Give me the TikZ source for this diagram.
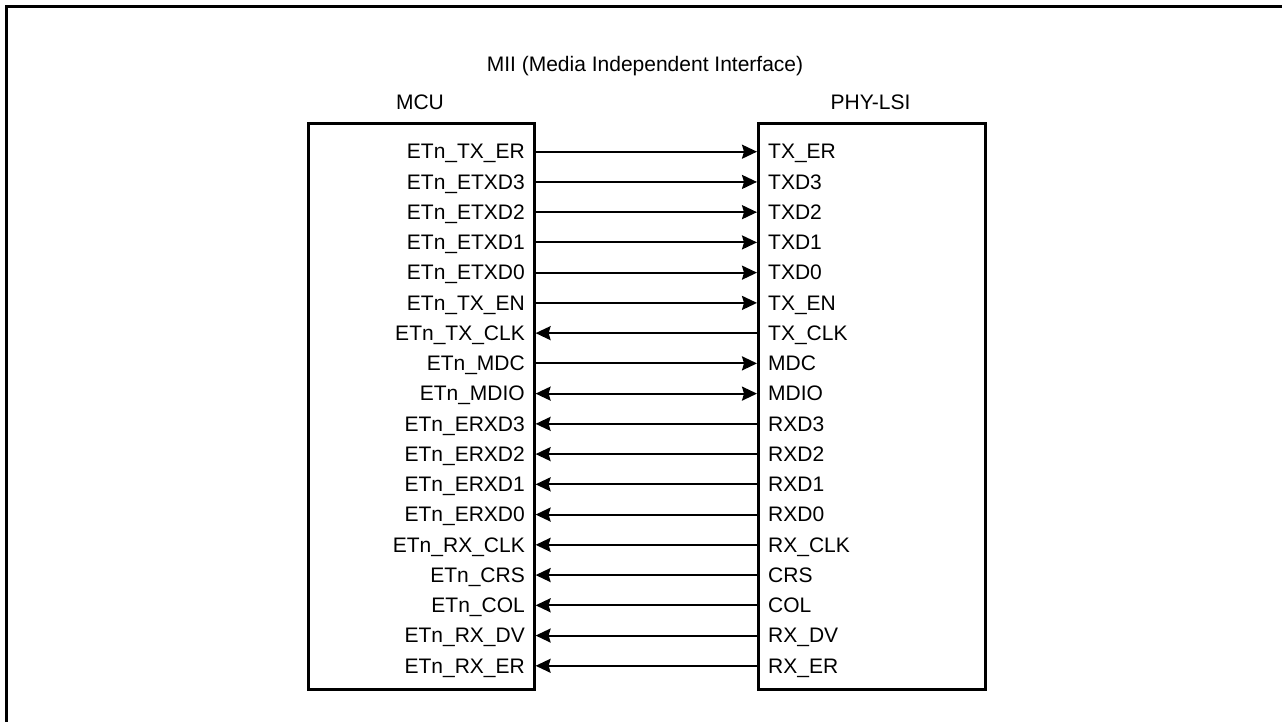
\documentclass[tikz,border=0pt]{standalone}
\usepackage{fontspec}
\setmainfont{Liberation Sans}
\usetikzlibrary{arrows.meta}
\begin{document}
\begin{tikzpicture}[x=1pt,y=-1pt,
  every node/.style={font=\fontsize{21}{25}\selectfont, inner sep=0pt},
  chipbox/.style={draw, line width=2.6pt},
  sig/.style={line width=2pt, {Stealth[length=15pt,width=14pt,inset=2pt]}-{Stealth[length=15pt,width=14pt,inset=2pt]}},
  sigr/.style={line width=2pt, -{Stealth[length=15pt,width=14pt,inset=2pt]}},
  sigl/.style={line width=2pt, {Stealth[length=15pt,width=14pt,inset=2pt]}-},
  mpin/.style={anchor=base east},
  ppin/.style={anchor=base west}]
\useasboundingbox (0,0) rectangle (1282,722);
\draw[line width=3pt] (6,722) -- (6,7) -- (1282,7);
\node (title) at (645,72) [anchor=base] {MII (Media Independent Interface)};
\node (mcu) [draw, chipbox, minimum width=226pt, minimum height=566pt, anchor=north west] at (307,122) {};
\node (phy) [draw, chipbox, minimum width=227pt, minimum height=566pt, anchor=north west] at (757,122) {};
\node (mcul) at (420,109.5) [anchor=base] {MCU};
\node (phyl) at (870.5,109.5) [anchor=base] {PHY-LSI};
\foreach \i/\ml/\pl/\st in {
  1/ETn\_TX\_ER/TX\_ER/sigr,
  2/ETn\_ETXD3/TXD3/sigr,
  3/ETn\_ETXD2/TXD2/sigr,
  4/ETn\_ETXD1/TXD1/sigr,
  5/ETn\_ETXD0/TXD0/sigr,
  6/ETn\_TX\_EN/TX\_EN/sigr,
  7/ETn\_TX\_CLK/TX\_CLK/sigl,
  8/ETn\_MDC/MDC/sigr,
  9/ETn\_MDIO/MDIO/sig,
  10/ETn\_ERXD3/RXD3/sigl,
  11/ETn\_ERXD2/RXD2/sigl,
  12/ETn\_ERXD1/RXD1/sigl,
  13/ETn\_ERXD0/RXD0/sigl,
  14/ETn\_RX\_CLK/RX\_CLK/sigl,
  15/ETn\_CRS/CRS/sigl,
  16/ETn\_COL/COL/sigl,
  17/ETn\_RX\_DV/RX\_DV/sigl,
  18/ETn\_RX\_ER/RX\_ER/sigl} {
  \pgfmathsetmacro{\yy}{151.7+(\i-1)*30.24}
  \node[mpin] (ml\i) at (525,\yy+7.3) {\ml};
  \node[ppin] (pl\i) at (768,\yy+7.3) {\pl};
  \coordinate (m\i) at (mcu.east |- 0,\yy);
  \coordinate (p\i) at (phy.west |- 0,\yy);
  \draw[\st] (m\i) -- (p\i);
}
\end{tikzpicture}
\end{document}
